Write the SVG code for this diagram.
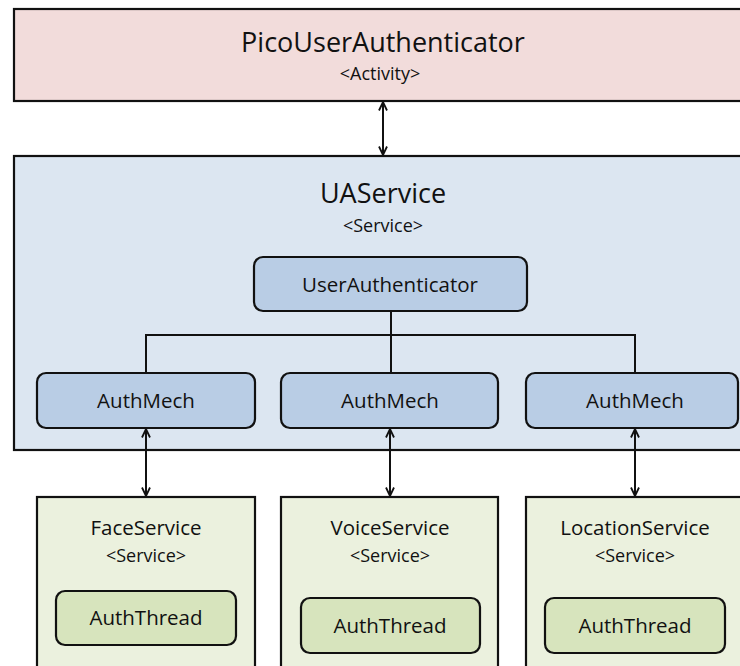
<svg xmlns="http://www.w3.org/2000/svg" width="740" height="666" viewBox="0 0 740 666">
  <defs>
    <style>
      text { font-family: "Open Sans", "Liberation Sans", sans-serif; fill: #111; text-anchor: middle; }
      .outer { stroke: #111; stroke-width: 2.2; }
      .inner { stroke: #111; stroke-width: 2.2; }
      .pink { fill: #f2dcdb; }
      .lblue { fill: #dce6f1; }
      .blue { fill: #b9cde5; }
      .lgreen { fill: #ebf1de; }
      .green { fill: #d7e4bd; }
      .big { font-size: 27px; }
      .mid { font-size: 20.5px; }
      .sub { font-size: 18px; }
      .conn { stroke: #111; stroke-width: 2; fill: none; }
    </style>
    <marker id="ah" viewBox="0 0 10 10" refX="9.5" refY="5" markerWidth="10" markerHeight="10" markerUnits="userSpaceOnUse" orient="auto-start-reverse">
      <path d="M1,1 L9.5,5 L1,9" fill="none" stroke="#111" stroke-width="1.8"/>
    </marker>
  </defs>

  <g id="picoUserAuthenticator">
    <rect class="outer pink" x="14" y="9" width="740" height="92"/>
    <text class="big" x="383" y="52">PicoUserAuthenticator</text>
    <text class="sub" x="380" y="80">&lt;Activity&gt;</text>
  </g>

  <g id="uaService">
    <rect class="outer lblue" x="14" y="156" width="740" height="294"/>
    <text class="big" x="383" y="203">UAService</text>
    <text class="sub" x="383" y="232">&lt;Service&gt;</text>
  </g>

  <g id="userAuthenticator">
    <rect class="inner blue" x="254" y="257" width="273" height="54" rx="9"/>
    <text class="mid" x="390" y="292">UserAuthenticator</text>
  </g>

  <g id="authMech1">
    <rect class="inner blue" x="37" y="373" width="218" height="55" rx="9"/>
    <text class="mid" x="146" y="408">AuthMech</text>
  </g>
  <g id="authMech2">
    <rect class="inner blue" x="281" y="373" width="217" height="55" rx="9"/>
    <text class="mid" x="390" y="408">AuthMech</text>
  </g>
  <g id="authMech3">
    <rect class="inner blue" x="526" y="373" width="212" height="55" rx="9"/>
    <text class="mid" x="635" y="408">AuthMech</text>
  </g>

  <g id="faceService">
    <rect class="outer lgreen" x="37" y="497" width="218" height="190"/>
    <text class="mid" x="146" y="535">FaceService</text>
    <text class="sub" x="146" y="562">&lt;Service&gt;</text>
  </g>
  <g id="faceAuthThread">
    <rect class="inner green" x="56" y="591" width="180" height="54" rx="9"/>
    <text class="mid" x="146" y="625">AuthThread</text>
  </g>

  <g id="voiceService">
    <rect class="outer lgreen" x="281" y="497" width="217" height="190"/>
    <text class="mid" x="390" y="535">VoiceService</text>
    <text class="sub" x="390" y="562">&lt;Service&gt;</text>
  </g>
  <g id="voiceAuthThread">
    <rect class="inner green" x="301" y="598" width="179" height="55" rx="9"/>
    <text class="mid" x="390" y="633">AuthThread</text>
  </g>

  <g id="locationService">
    <rect class="outer lgreen" x="526" y="497" width="230" height="190"/>
    <text class="mid" x="635" y="535">LocationService</text>
    <text class="sub" x="635" y="562">&lt;Service&gt;</text>
  </g>
  <g id="locationAuthThread">
    <rect class="inner green" x="545" y="598" width="180" height="55" rx="9"/>
    <text class="mid" x="635" y="633">AuthThread</text>
  </g>

  <g id="connectors">
    <line class="conn" x1="383" y1="102" x2="383" y2="155" marker-start="url(#ah)" marker-end="url(#ah)"/>
    <path class="conn" d="M391,312 V373 M146,373 V335 H635 V373"/>
    <line class="conn" x1="146" y1="429" x2="146" y2="496" marker-start="url(#ah)" marker-end="url(#ah)"/>
    <line class="conn" x1="390" y1="429" x2="390" y2="496" marker-start="url(#ah)" marker-end="url(#ah)"/>
    <line class="conn" x1="635" y1="429" x2="635" y2="496" marker-start="url(#ah)" marker-end="url(#ah)"/>
  </g>
</svg>
